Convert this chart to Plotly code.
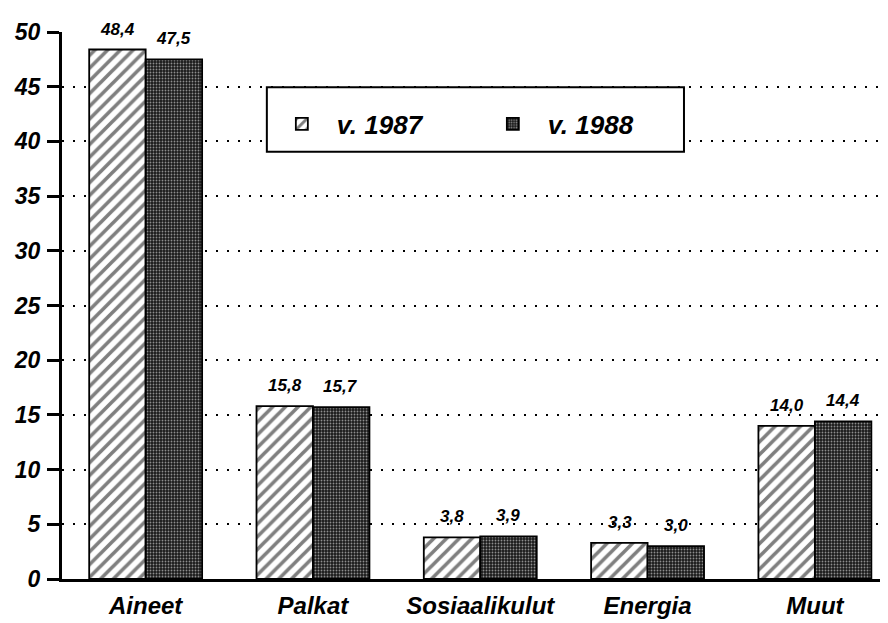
import plotly.graph_objects as go

categories = ["Aineet", "Palkat", "Sosiaalikulut", "Energia", "Muut"]
values_1987 = [48.4, 15.8, 3.8, 3.3, 14.0]
values_1988 = [47.5, 15.7, 3.9, 3.0, 14.4]
series_names = ["v. 1987", "v. 1988"]
y_ticks = [0, 5, 10, 15, 20, 25, 30, 35, 40, 45, 50]

FONT = "Liberation Sans, Arial, sans-serif"

def bi(size):
    return dict(family=FONT, size=size, color="black", weight="bold", style="italic")

fig = go.Figure()
fig.add_trace(go.Bar(
    name=series_names[0], x=categories, y=values_1987,
    marker=dict(color="white", line=dict(color="black", width=1.8),
                pattern=dict(shape="/", fgcolor="black", bgcolor="white",
                             size=9, solidity=0.4)),
))
fig.add_trace(go.Bar(
    name=series_names[1], x=categories, y=values_1988,
    marker=dict(color="black", line=dict(color="black", width=1.8),
                pattern=dict(shape=".", fgcolor="white", bgcolor="#1a1a1a",
                             size=3, solidity=0.3)),
))

annotations = []
for i in range(len(categories)):
    for vals, off in ((values_1987, -0.167), (values_1988, 0.167)):
        v = vals[i]
        annotations.append(dict(
            x=i + off, y=v, xref="x", yref="y",
            text=f"{v:.1f}".replace(".", ","), showarrow=False,
            yanchor="bottom", yshift=9, font=bi(17),
        ))

fig.update_layout(
    width=880, height=615,
    margin=dict(l=54, r=0, t=24, b=44, autoexpand=False),
    paper_bgcolor="white", plot_bgcolor="white",
    barmode="group", bargap=0.325, bargroupgap=0,
    font=dict(family=FONT, color="black"),
    annotations=annotations,
    showlegend=True,
    legend=dict(
        orientation="h", x=0.248, y=0.832, xanchor="left", yanchor="middle",
        bgcolor="rgba(0,0,0,0)", borderwidth=0,
        font=bi(26),
        entrywidth=136, entrywidthmode="pixels", itemwidth=60,
    ),
    shapes=[dict(
        type="rect", xref="paper", yref="paper",
        x0=0.248, x1=0.753, y0=0.781, y1=0.899,
        fillcolor="white", line=dict(color="black", width=2), layer="above",
    )],
)
fig.update_xaxes(
    range=[-0.5, 4.437], showline=True, linecolor="black", linewidth=3,
    showgrid=False, ticks="", ticklabelstandoff=3, automargin=False,
    tickfont=bi(24),
)
fig.update_yaxes(
    range=[0, 50], tickvals=y_ticks, showline=True, linecolor="black", linewidth=3,
    ticks="outside", ticklen=12, tickwidth=3, tickcolor="black",
    showgrid=True, gridcolor="black", gridwidth=2, griddash="2px,9px",
    zeroline=False, ticklabelstandoff=2, automargin=False,
    tickfont=bi(23),
)

fig.write_html("out.html")
